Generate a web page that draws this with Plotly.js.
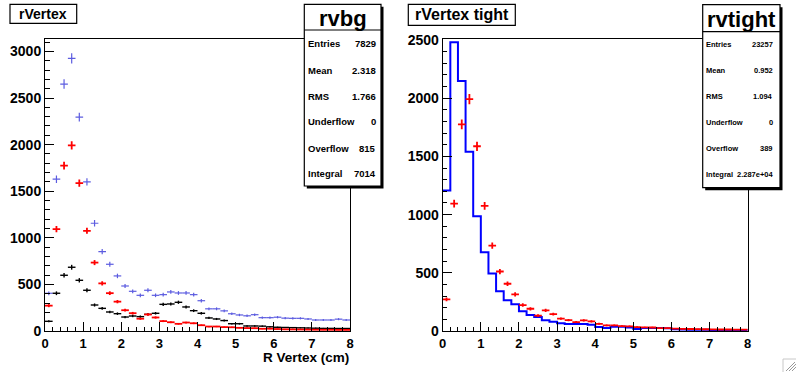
<!DOCTYPE html>
<html><head><meta charset="utf-8">
<script src="https://cdn.plot.ly/plotly-3.0.1.min.js"></script>
<style>html,body{margin:0;padding:0;background:#fff}#chart{width:796px;height:372px}</style>
</head><body><div id="chart"></div>
<script>
// bin centres (40 bins of width 0.2 from 0 to 8)
const binCenters = [0.1,0.3,0.5,0.7,0.9,1.1,1.3,1.5,1.7,1.9,2.1,2.3,2.5,2.7,2.9,3.1,3.3,3.5,3.7,3.9,
                    4.1,4.3,4.5,4.7,4.9,5.1,5.3,5.5,5.7,5.9,6.1,6.3,6.5,6.7,6.9,7.1,7.3,7.5,7.7,7.9];
const binEdges = [0,0.2,0.4,0.6,0.8,1.0,1.2,1.4,1.6,1.8,2.0,2.2,2.4,2.6,2.8,3.0,3.2,3.4,3.6,3.8,4.0,
                  4.2,4.4,4.6,4.8,5.0,5.2,5.4,5.6,5.8,6.0,6.2,6.4,6.6,6.8,7.0,7.2,7.4,7.6,7.8,8.0];
// left panel "rVertex"
const blueBg  = [405,1629,2650,2925,2295,1600,1156,852,716,591,483,426,383,437,383,390,419,408,408,390,
                 325,238,238,216,185,172,163,175,143,143,148,138,136,136,129,118,118,118,127,118];
const blackBg = [104,405,598,684,544,437,279,243,204,186,150,161,154,179,190,286,290,308,258,218,
                 190,140,129,112,78,78,54,54,52,45,40,38,36,34,32,30,28,28,27,27];
const redSig  = [272,1094,1775,1992,1587,1075,734,511,406,315,223,191,132,177,145,106,94,77,91,83,
                 62,48,48,42,40,34,31,30,24,25,21,18,17,16,15,14,13,13,12,12];
// right panel "rVertex tight" step histogram
const tightHist = [1206,2480,2148,1541,985,676,495,341,264,229,169,137,120,92,80,66,60,60,60,54,
                   34,26,37,37,30,17,26,26,26,24,14,12,11,10,10,9,9,8,8,8];
const xTicks = [0,1,2,3,4,5,6,7,8];
const statsLeft  = {name:'rvbg', labels:['Entries','Mean','RMS','Underflow','Overflow','Integral'],
                    values:['7829','2.318','1.766','0','815','7014']};
const statsRight = {name:'rvtight', labels:['Entries','Mean','RMS','Underflow','Overflow','Integral'],
                    values:['23257','0.952','1.094','0','389','2.287e+04']};

const W = 796, H = 372;
const px = x => x / W, py = y => 1 - y / H;
const FONT = 'Liberation Sans, Arial, Helvetica, sans-serif';

function crossTrace(vals, color, thick, xa, ya) {
  return {
    type: 'scatter', mode: 'markers', x: binCenters, y: vals, xaxis: xa, yaxis: ya,
    marker: {size: 2, color: color, opacity: 0},
    error_x: {type: 'constant', value: 0.1, color: color, thickness: thick, width: 0},
    error_y: {type: 'data', array: vals.map(v => Math.sqrt(v)), color: color, thickness: thick, width: 0},
    hoverinfo: 'skip', showlegend: false, cliponaxis: false
  };
}

const stepY = tightHist.concat([tightHist[tightHist.length - 1]]);
const traces = [
  crossTrace(blueBg, '#5c5ce0', 1.2, 'x', 'y'),
  crossTrace(blackBg, '#000000', 1.4, 'x', 'y'),
  crossTrace(redSig, '#ff0000', 1.8, 'x', 'y'),
  {type: 'scatter', mode: 'lines', x: binEdges, y: stepY, xaxis: 'x2', yaxis: 'y2',
   line: {shape: 'hv', color: '#0000ff', width: 2}, hoverinfo: 'skip', showlegend: false},
  crossTrace(redSig, '#ff0000', 1.8, 'x2', 'y2')
];

function xAxis(domain, anchor) {
  return {domain: domain, anchor: anchor, range: [0, 8], tickvals: xTicks, ticktext: xTicks.map(String),
    ticks: 'inside', ticklen: 9, tickwidth: 1, tickcolor: '#000', ticklabelstandoff: 0,
    minor: {ticks: 'inside', ticklen: 4, tickwidth: 1, tickcolor: '#000', dtick: 0.2, tick0: 0, showgrid: false},
    showline: true, linecolor: '#000', linewidth: 1, mirror: true, showgrid: false, zeroline: false,
    tickfont: {family: FONT, size: 13, color: '#000', weight: 'bold'}, fixedrange: true};
}
function yAxis(domain, anchor, top) {
  return {domain: domain, anchor: anchor, range: [0, top], dtick: 500, tick0: 0,
    ticks: 'inside', ticklen: 9, tickwidth: 1, tickcolor: '#000',
    minor: {ticks: 'inside', ticklen: 4.5, tickwidth: 1, tickcolor: '#000', dtick: 100, tick0: 0, showgrid: false},
    showline: true, linecolor: '#000', linewidth: 1, mirror: true, showgrid: false, zeroline: false,
    tickfont: {family: FONT, size: 14, color: '#000', weight: 'bold'}, fixedrange: true};
}

const yDom = [py(331), py(39.3)];
const shapes = [], annotations = [];

function box(x0, y0, x1, y1, shadow) {
  if (shadow) shapes.push({type: 'rect', xref: 'paper', yref: 'paper', layer: 'above',
    x0: px(x0 + 2.5), x1: px(x1 + 2.5), y0: py(y0 + 2.5), y1: py(y1 + 2.5),
    line: {width: 0}, fillcolor: '#000'});
  shapes.push({type: 'rect', xref: 'paper', yref: 'paper', layer: 'above',
    x0: px(x0), x1: px(x1), y0: py(y0), y1: py(y1), line: {color: '#000', width: 1.2}, fillcolor: '#fff'});
}
function text(t, x, y, size, anchor) {
  annotations.push({text: t, xref: 'paper', yref: 'paper', x: px(x), y: py(y), xanchor: anchor || 'center',
    yanchor: 'middle', showarrow: false, font: {family: FONT, size: size, color: '#000', weight: 'bold'}});
}
function statBox(st, x0, y0, x1, y1, lineY, rows, lx, vx, fs, hs) {
  box(x0, y0, x1, y1, true);
  shapes.push({type: 'line', xref: 'paper', yref: 'paper', layer: 'above',
    x0: px(x0), x1: px(x1), y0: py(lineY), y1: py(lineY), line: {color: '#000', width: 1.2}});
  text(st.name, (x0 + x1) / 2, (y0 + lineY) / 2 + 1, hs);
  st.labels.forEach((l, i) => {
    text(l, lx, rows[i], fs, 'left');
    text(st.values[i], vx, rows[i], fs, 'right');
  });
}

// title boxes
box(10, 4.3, 76.7, 23.3, false);
text('rVertex', 43.3, 14, 14);
box(408.3, 4.3, 515.3, 25.3, false);
text('rVertex tight', 461.8, 15, 16);
// stat boxes
statBox(statsLeft, 304.3, 4.3, 381, 186, 30, [43.7, 70, 96, 122, 148, 173], 306, 378, 9.5, 22);
statBox(statsRight, 702.7, 4.7, 780, 187.7, 31.7, [44.3, 70.3, 96.3, 122.7, 148.3, 174], 704, 775, 7.5, 22);
// x axis title (left panel)
annotations.push({text: 'R Vertex (cm)', xref: 'paper', yref: 'paper', x: px(350), y: py(357.5),
  xanchor: 'right', yanchor: 'middle', showarrow: false, borderpad: 0,
  font: {family: FONT, size: 13.5, color: '#000', weight: 'bold'}});
// canvas resize marker
shapes.push({type: 'rect', xref: 'paper', yref: 'paper', x0: px(783), x1: px(797), y0: py(359), y1: py(373),
  line: {color: '#c8c8c8', width: 1}, fillcolor: 'rgba(0,0,0,0)'});
[[786, 371, 795, 362], [789, 371, 796, 364], [792, 371, 796, 367]].forEach(l => shapes.push({type: 'line',
  xref: 'paper', yref: 'paper', x0: px(l[0]), y0: py(l[1]), x1: px(l[2]), y1: py(l[3]),
  line: {color: '#999', width: 1}}));

const layout = {
  width: W, height: H, margin: {l: 0, r: 0, t: 0, b: 0, pad: 0},
  paper_bgcolor: '#fff', plot_bgcolor: '#fff', showlegend: false,
  xaxis: xAxis([px(45), px(350)], 'y'),
  yaxis: yAxis(yDom, 'x', 3130),
  xaxis2: xAxis([px(442.7), px(747.7)], 'y2'),
  yaxis2: yAxis(yDom, 'x2', 2506),
  shapes: shapes, annotations: annotations
};
Plotly.newPlot('chart', traces, layout, {displayModeBar: false, staticPlot: true});
</script></body></html>
